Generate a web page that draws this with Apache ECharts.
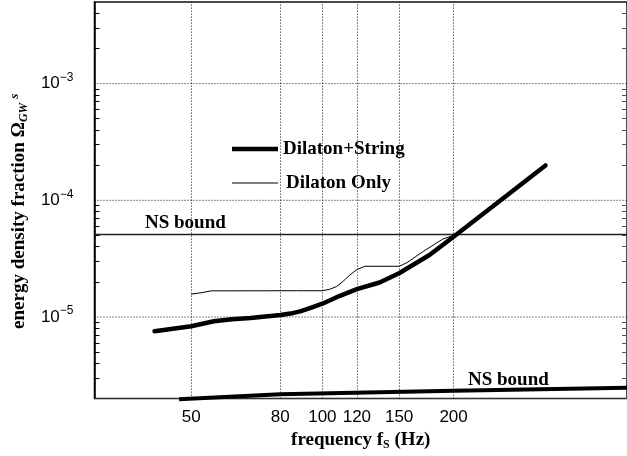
<!DOCTYPE html>
<html><head><meta charset="utf-8">
<script src="https://cdn.jsdelivr.net/npm/echarts@6/dist/echarts.min.js"></script>
<style>html,body{margin:0;padding:0;background:#fff}#c{width:627px;height:456px}</style>
</head><body><div id="c"></div>
<script>
// ---- data ----
const xTickValues = [50, 80, 100, 120, 150, 200];
const yTickValues = [1e-5, 1e-4, 1e-3];
const yTickExponents = ['−5', '−4', '−3'];
const yMinorTicks = [3e-6, 4e-6, 5e-6, 6e-6, 7e-6, 8e-6, 9e-6,
  2e-5, 3e-5, 4e-5, 5e-5, 6e-5, 7e-5, 8e-5, 9e-5,
  2e-4, 3e-4, 4e-4, 5e-4, 6e-4, 7e-4, 8e-4, 9e-4,
  2e-3, 3e-3, 4e-3];
const xRange = [30, 500];

const dsFreq  = [41.2, 50, 56.4, 62.0, 68.4, 76.0, 80.1, 84.5, 88.9, 94.0, 100, 109.7, 120, 135.3, 150, 176.1, 200, 256.5, 325];
const dsOmega = [7.55e-6, 8.33e-6, 9.19e-6, 9.55e-6, 9.80e-6, 1.02e-5, 1.04e-5, 1.07e-5, 1.118e-5, 1.20e-5, 1.30e-5, 1.52e-5, 1.733e-5, 1.976e-5, 2.37e-5, 3.40e-5, 4.88e-5, 1.0e-4, 1.99e-4];

const doFreq  = [50, 53.0, 55.5, 87.2, 100, 104.0, 107.9, 111.5, 115.7, 120.0, 125.1, 150, 156.4, 170.1, 188.8, 200.8];
const doOmega = [1.571e-5, 1.62e-5, 1.675e-5, 1.68e-5, 1.68e-5, 1.73e-5, 1.827e-5, 2.02e-5, 2.294e-5, 2.55e-5, 2.72e-5, 2.72e-5, 2.925e-5, 3.63e-5, 4.65e-5, 5.03e-5];

const nsTopFreq  = [30, 500];
const nsTopOmega = [5.1e-5, 5.1e-5];

const nsBotFreq  = [46.9, 80, 200, 500];
const nsBotOmega = [1.97e-6, 2.18e-6, 2.33e-6, 2.48e-6];

const seriesNames = ['Dilaton+String', 'Dilaton Only'];
const nsLabel = 'NS bound';

// ---- chart ----
const zip = (a, b) => a.map((v, i) => [v, b[i]]);
const chart = echarts.init(document.getElementById('c'), null, {renderer: 'canvas'});
const serif = 'Liberation Serif';
const sans = 'Liberation Sans';
const dotted = {color: '#111', width: 1, type: [1, 2]};

const hGridSeries = yTickValues.map(v => ({
  type: 'line', name: 'hgrid' + v, data: [[xRange[0], v], [xRange[1], v]], symbol: 'none', silent: true,
  lineStyle: dotted, itemStyle: {color: '#111'}, z: 1
}));

const option = {
  animation: false,
  backgroundColor: '#fff',
  grid: {left: 92, right: 0, top: 2, bottom: 55.5, show: true, borderColor: '#111', borderWidth: 1.5, backgroundColor: 'transparent'},
  legend: [
    {data: [seriesNames[0]], left: 232, top: 139, padding: 0, icon: 'rect', itemWidth: 46, itemHeight: 4.5,
     textStyle: {fontFamily: serif, fontWeight: 'bold', fontSize: 19, color: '#000', lineHeight: 20}},
    {data: [seriesNames[1]], left: 232, top: 173, padding: 0, icon: 'rect', itemWidth: 46, itemHeight: 1.2,
     textStyle: {fontFamily: serif, fontWeight: 'bold', fontSize: 19, color: '#000', lineHeight: 20, padding: [0, 0, 0, 3]}}
  ],
  xAxis: {
    type: 'log', logBase: 10, min: xRange[0], max: xRange[1],
    name: '{a|frequency f}{sub|S}{a| (Hz)}',
    nameLocation: 'middle', nameGap: 30,
    nameTextStyle: {rich: {
      a: {fontFamily: serif, fontWeight: 'bold', fontSize: 19, color: '#000', lineHeight: 22},
      sub: {fontFamily: serif, fontWeight: 'bold', fontSize: 12, color: '#000', lineHeight: 10, verticalAlign: 'bottom'}
    }},
    axisLine: {show: true, lineStyle: {color: '#333', width: 1}},
    axisTick: {show: false},
    splitLine: {show: false},
    minorTick: {show: false},
    axisLabel: {customValues: xTickValues, margin: 10, fontFamily: sans, fontSize: 17, color: '#000',
      formatter: v => String(Math.round(v))}
  },
  yAxis: [{
    type: 'log', logBase: 10, min: 2e-6, max: 5e-3,
    name: '{a|energy density fraction Ω}{sub|GW}{sup|s}',
    nameLocation: 'middle', nameGap: 52, nameRotate: 90,
    nameTextStyle: {padding: [0, 22, 0, 0], rich: {
      a: {fontFamily: serif, fontWeight: 'bold', fontSize: 19, color: '#000', lineHeight: 22},
      sub: {fontFamily: serif, fontStyle: 'italic', fontWeight: 'bold', fontSize: 12, color: '#000', lineHeight: 10, verticalAlign: 'bottom'},
      sup: {fontFamily: serif, fontStyle: 'italic', fontWeight: 'bold', fontSize: 13, color: '#000', lineHeight: 6, verticalAlign: 'top', padding: [0, 0, 0, 4]}
    }},
    axisLine: {show: true, lineStyle: {color: '#000', width: 1.5}},
    axisTick: {show: true, inside: true, length: 5, customValues: yMinorTicks, lineStyle: {color: '#000', width: 1}},
    splitLine: {show: false},
    minorTick: {show: false},
    axisLabel: {customValues: yTickValues, margin: 21,
      formatter: v => {
        const i = yTickValues.findIndex(t => Math.abs(Math.log10(t) - Math.log10(v)) < 1e-6);
        return '{b|10}{s|' + yTickExponents[i] + '}';
      },
      rich: {
        b: {fontFamily: sans, fontSize: 17, color: '#000', lineHeight: 24},
        s: {fontFamily: sans, fontSize: 12, color: '#000', lineHeight: 12, verticalAlign: 'top'}
      }}
  }, {
    type: 'log', logBase: 10, min: 2e-6, max: 5e-3, position: 'right',
    axisLine: {show: false},
    axisTick: {show: true, inside: true, length: 5, customValues: yMinorTicks, lineStyle: {color: '#555', width: 1}},
    axisLabel: {show: false},
    splitLine: {show: false},
    minorTick: {show: false}
  }],
  graphic: [
    {type: 'text', left: 145, top: 214, style: {text: nsLabel, fontFamily: serif, fontWeight: 'bold', fontSize: 19, fill: '#000'}},
    {type: 'text', left: 468, top: 371, style: {text: nsLabel, fontFamily: serif, fontWeight: 'bold', fontSize: 19, fill: '#000'}}
  ],
  series: [
    {type: 'line', name: 'vgrid', data: [], silent: true, symbol: 'none',
     markLine: {silent: true, symbol: 'none', label: {show: false}, lineStyle: dotted, animation: false,
       data: xTickValues.map(v => ({xAxis: v}))}},
    ...hGridSeries,
    {type: 'line', name: 'NS top', data: zip(nsTopFreq, nsTopOmega), symbol: 'none',
     lineStyle: {color: '#222', width: 1.4}, itemStyle: {color: '#222'}},
    {type: 'line', name: 'NS bottom', data: zip(nsBotFreq, nsBotOmega), symbol: 'none', clip: false,
     lineStyle: {color: '#000', width: 4}, itemStyle: {color: '#000'}},
    {type: 'line', name: seriesNames[1], data: zip(doFreq, doOmega), symbol: 'none',
     lineStyle: {color: '#000', width: 1, join: 'round'}, itemStyle: {color: '#000'}},
    {type: 'line', name: seriesNames[0], data: zip(dsFreq, dsOmega), symbol: 'none',
     lineStyle: {color: '#000', width: 4.5, cap: 'round', join: 'round'}, itemStyle: {color: '#000'}}
  ]
};
chart.setOption(option);
</script></body></html>
